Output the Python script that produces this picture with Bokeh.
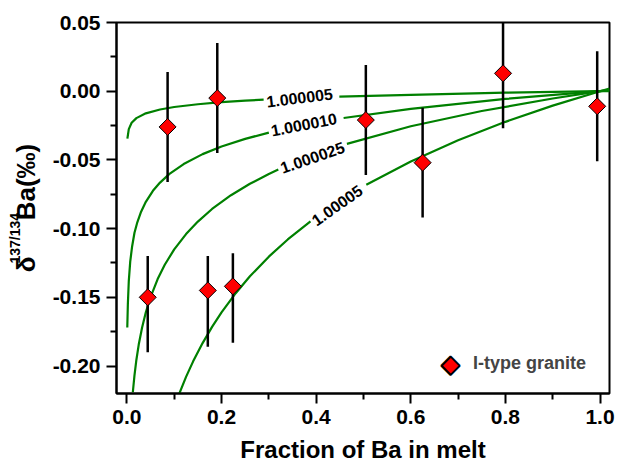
import math
from bokeh.plotting import figure
from bokeh.models import (Range1d, FixedTicker, PrintfTickFormatter, Label, Title,
                          Legend, LegendItem, ColumnDataSource)
from bokeh.embed import file_html
from bokeh.resources import INLINE

nan = float("nan")

# ---- I-type granite samples ----
ba_fraction = [0.044, 0.086, 0.171, 0.191, 0.224, 0.505, 0.625, 0.795, 0.994]
delta_ba = [-0.150, -0.026, -0.145, -0.005, -0.142, -0.021, -0.052, 0.013, -0.011]
err_up = [0.030, 0.040, 0.025, 0.040, 0.024, 0.040, 0.040, 0.040, 0.040]
err_down = [0.040, 0.040, 0.041, 0.040, 0.041, 0.040, 0.040, 0.040, 0.040]

# ---- Rayleigh model curves (nan = gap under label) ----
curve_a_label = "1.000005"
curve_a_x = [0.001, 0.004, 0.01, 0.02, 0.04, 0.07, 0.1, 0.15, 0.2, 0.25, 0.289,
             nan, 0.449, 0.6, 0.8, 1.0, 1.02]
curve_a_y = [-0.0345, -0.0276, -0.0230, -0.0196, -0.0161, -0.0133, -0.0115, -0.0095,
             -0.0080, -0.0069, -0.0062, nan, -0.0040, -0.0026, -0.0011, 0.0, 0.0001]

curve_b_label = "1.000010"
curve_b_x = [0.0008, 0.002, 0.004, 0.007, 0.011, 0.016, 0.022, 0.03, 0.04, 0.055, 0.07,
             0.09, 0.12, 0.16, 0.2, 0.25, 0.30, nan, 0.458, 0.6, 0.8, 1.0, 1.02]
curve_b_y = [-0.172, -0.155, -0.138, -0.124, -0.113, -0.103, -0.0954, -0.0877, -0.0805,
             -0.0725, -0.0665, -0.0602, -0.0530, -0.0458, -0.0402, -0.0347, -0.0301,
             nan, -0.0195, -0.0128, -0.0056, 0.0, 0.0005]

curve_c_label = "1.000025"
curve_c_x = [0.0125, 0.016, 0.02, 0.025, 0.032, 0.04, 0.05, 0.065, 0.08, 0.1, 0.125,
             0.15, 0.18, 0.22, 0.26, 0.30, 0.32, nan, 0.465, 0.6, 0.75, 0.9, 1.0, 1.02]
curve_c_y = [-0.2191, -0.2068, -0.1956, -0.1844, -0.1721, -0.1609, -0.1498, -0.1367,
             -0.1263, -0.1151, -0.1040, -0.0949, -0.0857, -0.0757, -0.0674, -0.0602,
             -0.0570, nan, -0.0383, -0.0255, -0.0144, -0.0053, 0.0, 0.001]

curve_d_label = "1.00005"
curve_d_x = [0.11, 0.125, 0.14, 0.16, 0.18, 0.2, 0.23, 0.26, 0.3, 0.34, 0.388,
             nan, 0.506, 0.6, 0.7, 0.8, 0.9, 1.0, 1.02]
curve_d_y = [-0.2207, -0.2079, -0.1966, -0.1833, -0.1715, -0.1609, -0.1470, -0.1347,
             -0.1204, -0.1079, -0.0947, nan, -0.0681, -0.0511, -0.0357, -0.0223,
             -0.0105, 0.0, 0.002]

x_ticks = [0.0, 0.2, 0.4, 0.6, 0.8, 1.0]
x_minor = [0.1, 0.3, 0.5, 0.7, 0.9]
y_ticks = [-0.20, -0.15, -0.10, -0.05, 0.00, 0.05]
y_minor = [-0.175, -0.125, -0.075, -0.025, 0.025]

FONT = "Liberation Sans"
GREEN = "#008000"
NB = "\u00a0"

p = figure(width=617, height=467, output_backend="svg", toolbar_location=None,
           x_range=Range1d(-0.022, 1.02), y_range=Range1d(-0.22, 0.05),
           min_border_left=116, min_border_right=8, min_border_top=22,
           min_border_bottom=74)
p.xgrid.visible = False
p.ygrid.visible = False
p.outline_line_color = "black"
p.outline_line_width = 2
p.background_fill_color = "white"
p.border_fill_color = "white"

for ax in (p.xaxis[0], p.yaxis[0]):
    ax.axis_line_width = 2
    ax.major_tick_line_width = 2
    ax.minor_tick_line_width = 2
    ax.major_tick_in = 0
    ax.minor_tick_in = 0
    ax.major_tick_out = 10
    ax.minor_tick_out = 6
    ax.major_label_text_font = FONT
    ax.major_label_text_font_style = "bold"
    ax.major_label_text_font_size = "21px"
    ax.major_label_text_color = "black"
    ax.axis_label_text_font = FONT
    ax.axis_label_text_font_style = "bold"
    ax.axis_label_text_color = "black"

p.xaxis.ticker = FixedTicker(ticks=x_ticks, minor_ticks=x_minor)
p.yaxis.ticker = FixedTicker(ticks=y_ticks, minor_ticks=y_minor)
p.xaxis.formatter = PrintfTickFormatter(format="%.1f")
p.yaxis.formatter = PrintfTickFormatter(format="%.2f")
p.xaxis.major_label_standoff = 6
p.yaxis.major_label_standoff = 6

p.xaxis.axis_label = "Fraction of Ba in melt"
p.xaxis.axis_label_text_font_size = "24px"
p.xaxis.axis_label_standoff = 9

# y title: delta + gap (superscript goes there) + Ba(permil)
p.yaxis.axis_label = "\u03b4" + NB * 5 + "Ba(\u2030)"
p.yaxis.axis_label_text_font_size = "26px"
p.yaxis.axis_label_standoff = 9
sup = Title(text="137/134", align="left", offset=130, standoff=-30,
            text_font=FONT, text_font_style="bold", text_font_size="14px",
            text_color="black")
p.add_layout(sup, "left")

# model curves
for cx, cy in ((curve_a_x, curve_a_y), (curve_b_x, curve_b_y),
               (curve_c_x, curve_c_y), (curve_d_x, curve_d_y)):
    p.line(cx, cy, line_color=GREEN, line_width=2.2)

# curve labels
for txt, lx, ly, ang in ((curve_a_label, 0.365, -0.0046, 7),
                         (curve_b_label, 0.374, -0.0241, 11),
                         (curve_c_label, 0.392, -0.0481, 19),
                         (curve_d_label, 0.444, -0.0829, 35)):
    p.add_layout(Label(x=lx, y=ly, text=txt, angle=ang, angle_units="deg",
                       text_align="center", text_baseline="middle",
                       text_font=FONT, text_font_style="bold",
                       text_font_size="16px", text_color="black"))

# samples with error bars
lo = [d - e for d, e in zip(delta_ba, err_down)]
hi = [d + e for d, e in zip(delta_ba, err_up)]
src = ColumnDataSource(dict(x=ba_fraction, y=delta_ba, lo=lo, hi=hi))
p.segment(x0="x", y0="lo", x1="x", y1="hi", source=src,
          line_color="black", line_width=2.5)
pts = p.scatter("x", "y", source=src, marker="square", size=12,
                angle=math.pi / 4, fill_color="#ff0000", line_color="black",
                line_width=1)

# legend: text from a real Legend, key drawn as a diamond symbol
legend = Legend(items=[LegendItem(label="I-type granite", renderers=[pts])],
                location=(357, 19), margin=0, padding=0,
                glyph_width=0, glyph_height=20, label_standoff=0,
                border_line_alpha=0, background_fill_alpha=0,
                label_text_font=FONT, label_text_font_style="bold",
                label_text_font_size="18px")
p.add_layout(legend)
key_kw = dict(x=334, y=30, x_units="screen", y_units="screen", text="\u25c6",
              text_align="center", text_baseline="middle",
              text_font="DejaVu Sans", text_font_size="24px", text_color="#ff0000")
try:
    key = Label(text_outline_color="black", **key_kw)
except Exception:
    key = Label(**key_kw)
p.add_layout(key)

open("out.html", "w").write(file_html(p, INLINE))
